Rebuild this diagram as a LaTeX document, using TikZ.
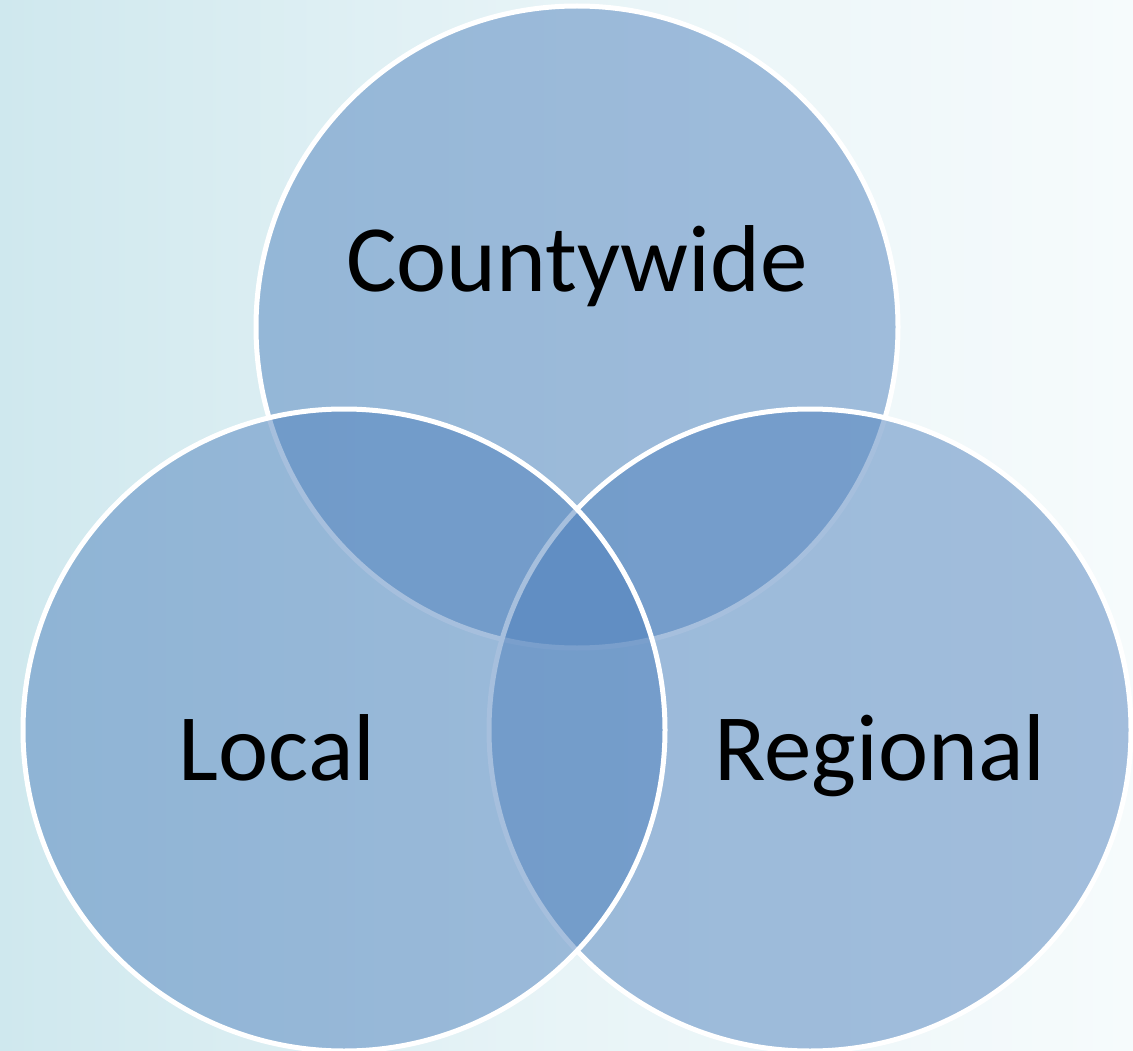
\documentclass[tikz,border=0pt]{standalone}
\usepackage{fontspec}
\setmainfont{Carlito}
\definecolor{vennblue}{RGB}{79,129,189}
\definecolor{bgleft}{RGB}{207,232,238}
\definecolor{bgmid}{RGB}{232,244,247}
\definecolor{bgright}{RGB}{246,251,252}
\pgfdeclarehorizontalshading{bgshade}{100bp}{color(0bp)=(bgleft); color(25bp)=(bgleft); color(50bp)=(bgmid); color(75bp)=(bgright); color(100bp)=(bgright)}
\begin{document}
\begin{tikzpicture}[x=1pt,y=-1pt,
  venn/.style={circle, minimum size=642pt, inner sep=0pt, fill=vennblue, fill opacity=0.5, draw=white, draw opacity=1, line width=5pt},
  lbl/.style={font=\fontsize{95}{110}\selectfont, text=black, anchor=base, inner sep=0pt}]
\useasboundingbox (0,0) rectangle (1133,1051);
\shade[shading=bgshade] (0,0) rectangle (1133,1051);
\node[venn] (top) at (577,327) {};
\node[venn] (right) at (810,730) {};
\node[venn] (left) at (344,730) {};
\node[lbl] (tl) at (577,291) {Countywide};
\node[lbl] (ll) at (277,780) {Local};
\node[lbl] (rl) at (880,780) {Regional};
\end{tikzpicture}
\end{document}
